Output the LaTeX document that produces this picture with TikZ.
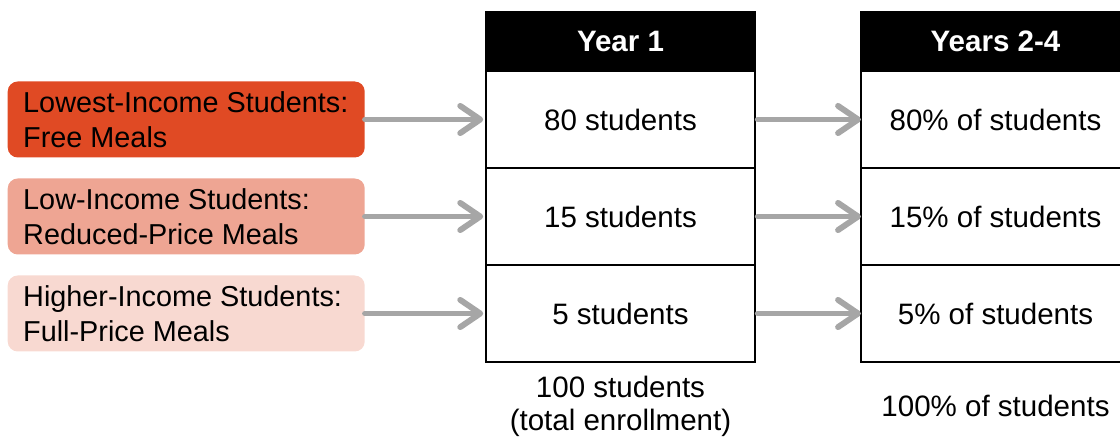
\documentclass[tikz,border=0pt]{standalone}
\usepackage{fontspec}
\setmainfont{Liberation Sans}
\usepackage{xcolor}
\definecolor{colorLowest}{HTML}{E04A24}
\definecolor{colorLow}{HTML}{EEA593}
\definecolor{colorHigher}{HTML}{F8D9D1}
\definecolor{colorArrow}{HTML}{A6A6A6}
\usetikzlibrary{arrows.meta, positioning}
\tikzset{
  group/.style={rounded corners=0.25cm, minimum width=8.925cm, minimum height=1.9cm, text width=8.15cm, inner xsep=0.3875cm, align=flush left, font=\fontsize{20.5}{25}\selectfont},
  cell/.style={draw, line width=1pt, outer sep=0pt, minimum width=6.725cm, minimum height=2.425cm},
  header/.style={cell, fill=black, text=white, font=\fontsize{21}{24}\selectfont\bfseries, minimum height=1.475cm},
  flow/.style={-{Straight Barb[round, length=0.5cm, width=0.68cm]}, colorArrow, line width=4.2pt, line cap=round}
}

\begin{document}
\begin{tikzpicture}[every node/.style={font=\fontsize{21}{24}\selectfont}]
\useasboundingbox (0,0) rectangle (28,-10.925);
\node[header] (hd1) at (15.5125,-1.0375) {Year 1};
\node[header] (hd2) at (24.8875,-1.0375) {Years 2-4};
\node[cell, below=0cm of hd1] (n11) {80 students};
\node[cell, below=0cm of n11] (n12) {15 students};
\node[cell, below=0cm of n12] (n13) {5 students};
\node[cell, below=0cm of hd2] (n21) {80\% of students};
\node[cell, below=0cm of n21] (n22) {15\% of students};
\node[cell, below=0cm of n22] (n23) {5\% of students};
\node[group, fill=colorLowest, left=3.025cm of n11] (g1) {Lowest-Income Students:\\Free Meals};
\node[group, fill=colorLow, left=3.025cm of n12] (g2) {Low-Income Students:\\Reduced-Price Meals};
\node[group, fill=colorHigher, left=3.025cm of n13] (g3) {Higher-Income Students:\\Full-Price Meals};
\node[align=center, below=0.22cm of n13] (tot1) {100 students\\(total enrollment)};
\node[below=0.7cm of n23] (tot2) {100\% of students};
\draw[flow, shorten >=2pt] (g1) -- (n11);
\draw[flow, shorten >=2pt] (g2) -- (n12);
\draw[flow, shorten >=2pt] (g3) -- (n13);
\draw[flow, shorten <=2pt] (n11) -- (n21);
\draw[flow, shorten <=2pt] (n12) -- (n22);
\draw[flow, shorten <=2pt] (n13) -- (n23);
\end{tikzpicture}
\end{document}
